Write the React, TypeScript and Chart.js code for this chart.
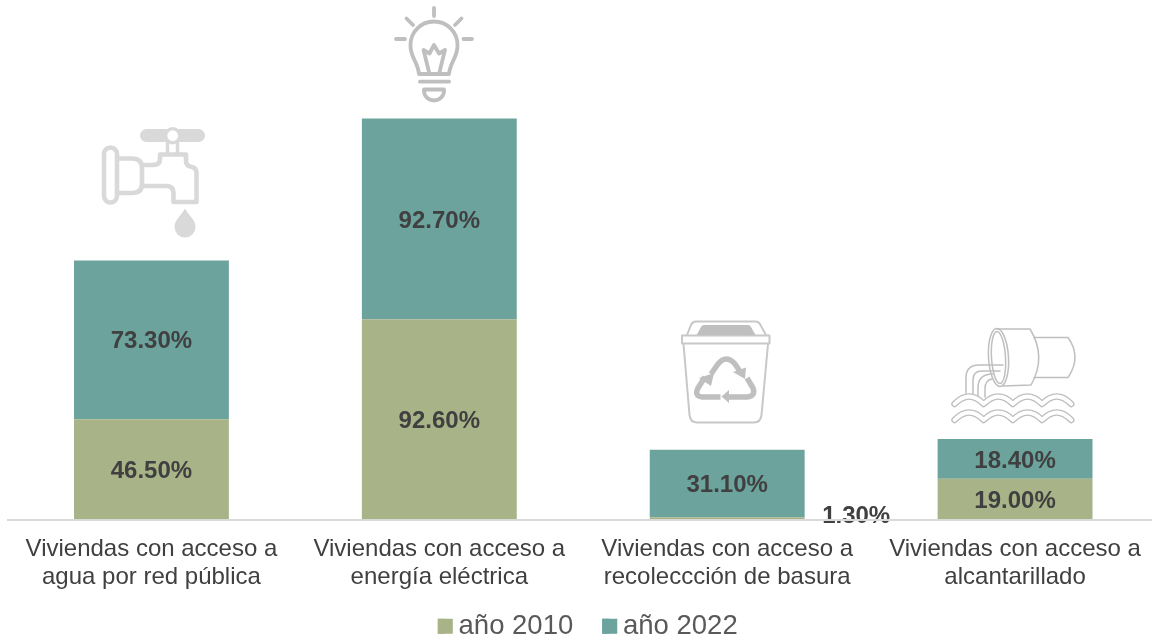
import React, { useEffect, useRef } from "react";
import { Chart, registerables } from "chart.js";

Chart.register(...registerables);

const categories = [
  ["Viviendas con acceso a", "agua por red pública"],
  ["Viviendas con acceso a", "energía eléctrica"],
  ["Viviendas con acceso a", "recoleccción de basura"],
  ["Viviendas con acceso a", "alcantarillado"],
];
const values2010 = [46.5, 92.6, 1.3, 19.0];
const values2022 = [73.3, 92.7, 31.1, 18.4];
const seriesNames = ["año 2010", "año 2022"];
const seriesColors = ["#A9B388", "#6CA39D"];
const FONT = "Liberation Sans, Arial, sans-serif";

function stroke(ctx: CanvasRenderingContext2D, d: string, color: string, w: number) {
  ctx.strokeStyle = color;
  ctx.lineWidth = w;
  ctx.stroke(new Path2D(d));
}
function fill(ctx: CanvasRenderingContext2D, d: string, color: string) {
  ctx.fillStyle = color;
  ctx.fill(new Path2D(d));
}

function drawFaucet(ctx: CanvasRenderingContext2D) {
  const c = "#D9D9D9";
  stroke(ctx, "M146.5 135.5H198.5", c, 13);
  ctx.fillStyle = c;
  ctx.beginPath(); ctx.arc(172.7, 135.7, 8.7, 0, Math.PI * 2); ctx.fill();
  ctx.fillStyle = "#fff";
  ctx.beginPath(); ctx.arc(172.7, 135.7, 5.4, 0, Math.PI * 2); ctx.fill();
  stroke(ctx, "M167.5 143V154M177.5 143V154", c, 3.5);
  stroke(ctx, "M110.5 147.5A6.5 6.5 0 0 1 117 154V196A6.5 6.5 0 0 1 104 196V154A6.5 6.5 0 0 1 110.5 147.5Z", c, 4.6);
  stroke(ctx, "M117 158.5H132Q142 158.5 142 168V184Q142 193 132 193H117", c, 4.6);
  stroke(ctx, "M142 165H153Q160 165 160 159V154.5H186V161Q186 166 192 167Q196.5 168 196.5 173V202H173.5V193Q173.5 186 166 186H142", c, 4.6);
  fill(ctx, "M185 208.5C180 217 174.5 220 174.5 227A10.5 10.5 0 0 0 195.5 227C195.5 220 190 217 185 208.5Z", c);
}

function drawBulb(ctx: CanvasRenderingContext2D) {
  const c = "#BFBFBF";
  const w = 3.8;
  stroke(ctx, "M434 8V16M406.5 18.5L413 25M461.5 18.5L455 25M396 39H405M463.5 39H472", c, w);
  stroke(ctx, "M419 74C418 62 410 57 410.5 45A23.5 23.5 0 0 1 457.5 45C458 57 450 62 449 74Z", c, w);
  stroke(ctx, "M429.5 74L423.5 50L429.5 53.5L434 45L439 53.5L445 50L439 74", c, w);
  stroke(ctx, "M420 81.7H449", c, w);
  stroke(ctx, "M424 89.5H444V91A10 9.5 0 0 1 424 91Z", c, w);
}

function drawBin(ctx: CanvasRenderingContext2D) {
  const c = "#C8C8C8";
  stroke(ctx, "M682 335.5H769.5V343.5H682Z", c, 2);
  stroke(ctx, "M687 335L691 325Q692.5 321.5 696 321.5H755Q759 321.5 760.5 325L766 335", c, 2);
  fill(ctx, "M696.7 335L701 327Q702 325 704 325H748Q750 325 751 327L755.5 335Z", "#BFBFBF");
  stroke(ctx, "M683.5 344L689.5 415Q690.5 422.5 697 422.5H754Q760.5 422.5 761.5 415L768 344", c, 2);
  const r = "#BFBFBF";
  ctx.save();
  ctx.lineCap = "butt";
  stroke(ctx, "M711 374L718 364Q726 354 735 364L741 373", r, 5.5);
  fill(ctx, "M733 372L746 367.5L745 379Z", r);
  stroke(ctx, "M747 378L753 388Q756 396 747 397H729", r, 5.5);
  fill(ctx, "M729 390V403L721.5 396.5Z", r);
  stroke(ctx, "M720.5 397H702Q694 396 698 388L705 377", r, 5.5);
  fill(ctx, "M699 378L714 373L711 386Z", r);
  ctx.restore();
}

function drawOutfall(ctx: CanvasRenderingContext2D) {
  const c = "#BFBFBF";
  const w = 1.5;
  ctx.strokeStyle = c;
  ctx.lineWidth = w;
  ctx.beginPath(); ctx.ellipse(998.5, 357.5, 10, 29, -0.06, 0, Math.PI * 2); ctx.stroke();
  ctx.beginPath(); ctx.ellipse(998.5, 357.5, 7, 26, -0.06, 0, Math.PI * 2); ctx.stroke();
  stroke(ctx, "M997 329H1030Q1047 357 1031 385L1003 386", c, w);
  stroke(ctx, "M1034 337.5H1068Q1082 357 1068 377.5H1034", c, w);
  stroke(ctx, "M1003 365H979Q966 365 966 378V393M1000 371H982Q973 371 973 380V395", c, w);
  stroke(ctx, "M993 374H991Q978 375 978 388V398M992 379Q985 380 985 389V397", c, w);
  for (const dy of [0, 16]) {
    let d = `M954.5 ${404 + dy}`;
    for (let i = 0; i < 4; i++) {
      const x0 = 954.5 + i * 29.2;
      d += `Q${x0 + 14.6} ${389 + dy} ${x0 + 29.2} ${404 + dy}`;
    }
    stroke(ctx, d, c, 6.5);
    stroke(ctx, d, "#fff", 3.8);
  }
}

const iconsPlugin = {
  id: "icons",
  afterDraw(chart: Chart) {
    const ctx = chart.ctx;
    ctx.save();
    ctx.lineCap = "round";
    ctx.lineJoin = "round";
    drawFaucet(ctx);
    drawBulb(ctx);
    drawBin(ctx);
    drawOutfall(ctx);
    ctx.restore();
  },
};

const valueLabelsPlugin = {
  id: "valueLabels",
  afterDatasetsDraw(chart: Chart) {
    const ctx = chart.ctx;
    ctx.save();
    ctx.font = `bold 24px ${FONT}`;
    ctx.fillStyle = "#404040";
    ctx.textAlign = "center";
    ctx.textBaseline = "middle";
    chart.data.datasets.forEach((ds, di) => {
      chart.getDatasetMeta(di).data.forEach((el: any, i: number) => {
        const v = ds.data[i] as number;
        const small = v < 5;
        const { x, y } = el.getCenterPoint();
        ctx.fillText(`${v.toFixed(2)}%`, small ? x + 129 : x, small ? y - 2 : y + 2);
      });
    });
    ctx.restore();
  },
};

const legendBoxPlugin = {
  id: "legendBoxes",
  afterDraw(chart: any) {
    const legend = chart.legend;
    if (!legend || !legend.legendHitBoxes) return;
    const ctx = chart.ctx;
    ctx.save();
    legend.legendHitBoxes.forEach((b: any, i: number) => {
      ctx.fillStyle = seriesColors[i];
      ctx.fillRect(b.left, b.top + (b.height - 15) / 2, 15, 15);
    });
    ctx.restore();
  },
};

// Tick labels overlap the legend's padded box: widen the axis clip area, nudge the legend.
const layoutTweakPlugin = {
  id: "layoutTweak",
  afterLayout(chart: any) {
    chart.scales.x.bottom += 14;
    chart.legend.left += 4.5;
    chart.legend.right += 4.5;
  },
};

export default function App() {
  const ref = useRef<HTMLCanvasElement>(null);
  useEffect(() => {
    const chart = new Chart(ref.current!, {
      type: "bar",
      data: {
        labels: categories,
        datasets: [
          { label: seriesNames[0], data: values2010, backgroundColor: seriesColors[0] },
          { label: seriesNames[1], data: values2022, backgroundColor: seriesColors[1] },
        ],
      },
      options: {
        animation: false,
        responsive: false,
        maintainAspectRatio: false,
        barPercentage: 0.538,
        categoryPercentage: 1,
        layout: { padding: { left: 7.5, right: 25, top: 0, bottom: 0 } },
        scales: {
          x: {
            stacked: true,
            grid: { display: false },
            border: { display: true, color: "#D9D9D9", width: 2, z: 1 },
            ticks: {
              color: "#404040",
              padding: 7,
              maxRotation: 0,
              autoSkip: false,
              font: { family: FONT, size: 24, lineHeight: 1.17 },
            },
            afterFit(scale: any) {
              scale.height = 63.5;
            },
          },
          y: { stacked: true, display: false, min: 0, max: 240 },
        },
        plugins: {
          tooltip: { enabled: false },
          legend: {
            position: "bottom",
            labels: {
              boxWidth: 7,
              boxHeight: 15,
              padding: 29,
              color: "#595959",
              font: { family: FONT, size: 27.5 },
            },
          },
        },
      },
      plugins: [layoutTweakPlugin, valueLabelsPlugin, iconsPlugin, legendBoxPlugin],
    } as any);
    return () => chart.destroy();
  }, []);
  return (
    <div style={{ position: "fixed", left: 0, top: 0, width: 1152, height: 639, overflow: "hidden", background: "#fff" }}>
      <canvas ref={ref} width={1184} height={650} style={{ display: "block", width: 1184, height: 650 }} />
    </div>
  );
}
